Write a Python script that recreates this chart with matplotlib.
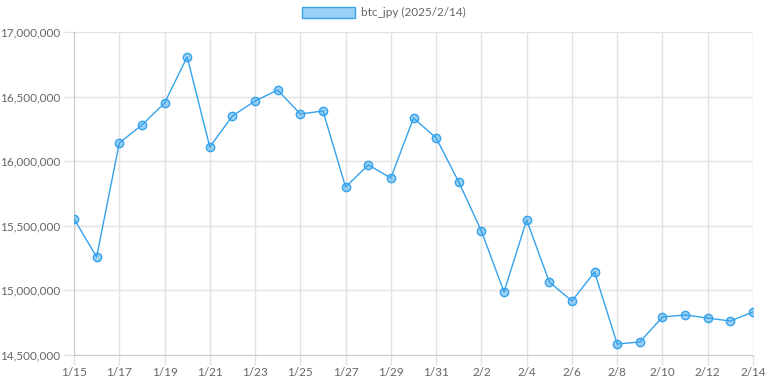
import matplotlib.pyplot as plt
from matplotlib.patches import Patch
from matplotlib.ticker import FuncFormatter

plt.rcParams['font.family'] = ['Lato', 'DejaVu Sans']

# daily btc_jpy close, 1/15 .. 2/14
dates = ["1/15", "1/16", "1/17", "1/18", "1/19", "1/20", "1/21", "1/22", "1/23", "1/24",
         "1/25", "1/26", "1/27", "1/28", "1/29", "1/30", "1/31", "2/1", "2/2", "2/3",
         "2/4", "2/5", "2/6", "2/7", "2/8", "2/9", "2/10", "2/11", "2/12", "2/13", "2/14"]
prices = [15553000, 15259000, 16141000, 16280000, 16450000, 16807000, 16110000, 16350000,
          16466000, 16551000, 16365000, 16389000, 15800000, 15971000, 15870000, 16334000,
          16180000, 15839000, 15460000, 14988000, 15545000, 15065000, 14918000, 15142000,
          14585000, 14601000, 14794000, 14810000, 14786000, 14763000, 14833000]
y_ticks = [14500000, 15000000, 15500000, 16000000, 16500000, 17000000]

line_col = "#36A2EB"
fill_col = (54/255, 162/255, 235/255, 0.5)
txt_col = "#666666"

fig = plt.figure(figsize=(7.68, 3.84), dpi=100)
ax = fig.add_axes([74/768, 1 - 355/384, (753 - 74)/768, (355 - 32)/384])

x = list(range(len(dates)))
ax.plot(x, prices, color=line_col, lw=1, marker="o", ms=6,
        markerfacecolor=fill_col, markeredgecolor=line_col, markeredgewidth=1, zorder=3)

ax.set_xlim(0, len(dates) - 1)
ax.set_ylim(14500000, 17000000)
ax.set_xticks(x[::2])
ax.set_xticklabels(dates[::2])
ax.set_yticks(y_ticks)
ax.yaxis.set_major_formatter(FuncFormatter(lambda v, p: f"{int(v):,}"))

ax.grid(True, color="#e2e2e2", lw=1)
ax.set_axisbelow(True)
for s in ["top", "right"]:
    ax.spines[s].set_visible(False)
for s in ["left", "bottom"]:
    ax.spines[s].set_color("#cccccc")
ax.tick_params(axis="both", colors="#e2e2e2", labelcolor=txt_col, labelsize=8.5,
               length=7, width=1)
ax.tick_params(axis="y", pad=3)
ax.tick_params(axis="x", pad=2)

fig.legend(handles=[Patch(facecolor=fill_col, edgecolor=line_col, lw=1,
                          label="btc_jpy (2025/2/14)")],
           loc="upper center", bbox_to_anchor=(0.5, 1.01), frameon=False,
           fontsize=8.5, labelcolor=txt_col, handlelength=4.5, handleheight=1.1,
           handletextpad=0.5)

fig.savefig("out.png", dpi=100)
